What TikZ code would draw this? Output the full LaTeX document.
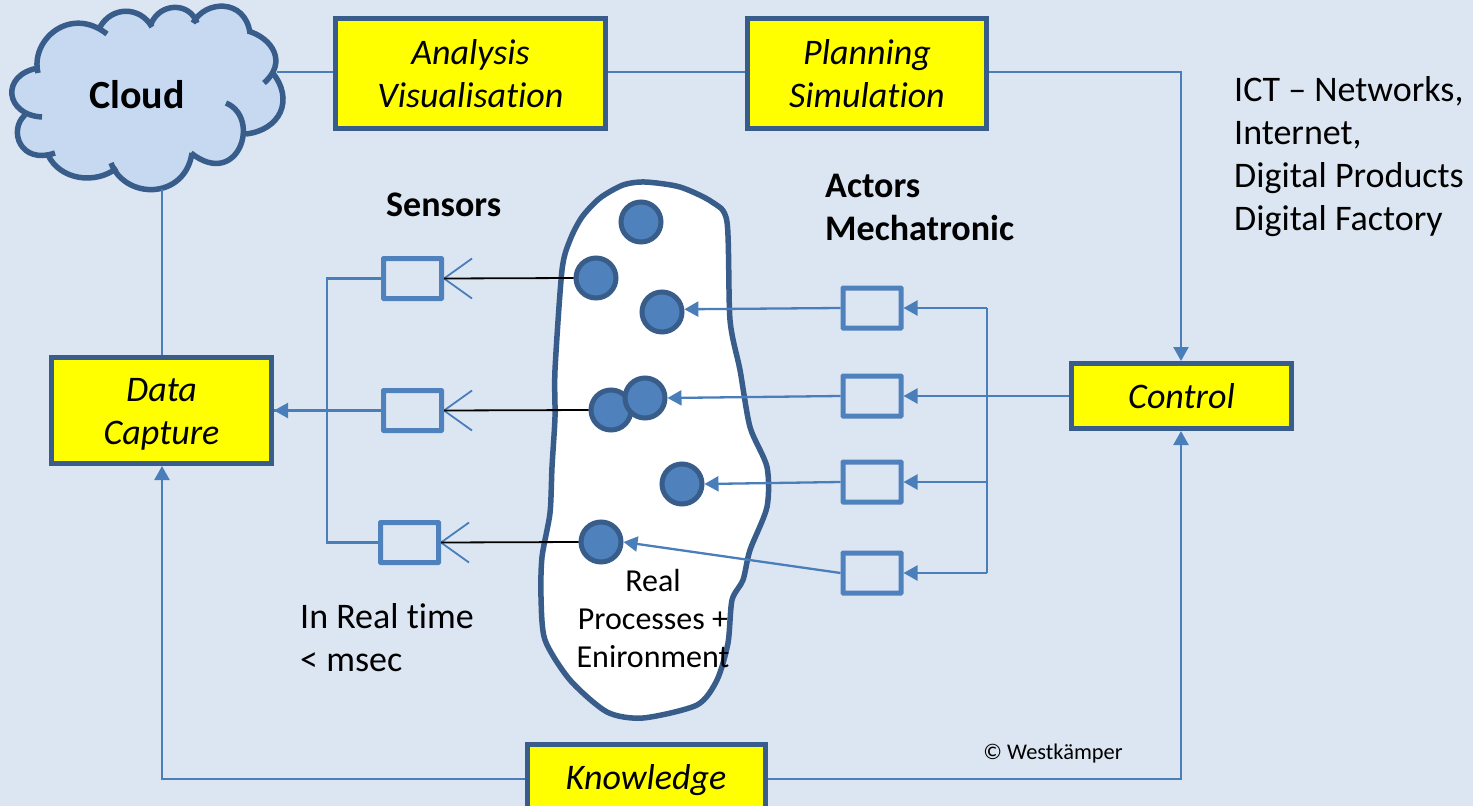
\documentclass[tikz,border=0pt]{standalone}
\usepackage{fontspec}
\setmainfont{Carlito}[Ligatures=NoCommon]
\usetikzlibrary{arrows.meta}
\definecolor{bgc}{HTML}{DCE6F2}
\definecolor{cloudc}{HTML}{C6D9F1}
\definecolor{edgec}{HTML}{385D8A}
\definecolor{linec}{HTML}{4A7EBB}
\definecolor{dotc}{HTML}{4F81BD}
\definecolor{yellowc}{HTML}{FFFF00}
\tikzset{
  x=1pt,y=-1pt,
  yellowbox/.style={draw=edgec,line width=5pt,fill=yellowc,inner sep=0pt,align=center,font=\fontsize{36}{43}\selectfont\itshape},
  sensorbox/.style={draw=dotc,line width=5pt,inner sep=0pt,minimum width=58pt,minimum height=40pt,rounded corners=0.5pt},
  dot/.style={circle,draw=edgec,line width=5pt,fill=dotc,inner sep=0pt,minimum size=40pt},
  conn/.style={draw=linec,line width=2.3pt},
  arr/.style={conn,-{Triangle[length=14pt,width=15pt]}},
  probe/.style={draw=black,line width=1.8pt},
  prong/.style={draw=linec,line width=1.8pt},
  outline/.style={draw=edgec,line width=5.5pt,line cap=butt},
  lbl/.style={inner sep=0pt,align=left,anchor=north west,font=\fontsize{36}{43}\selectfont},
  head/.style={inner sep=0pt,align=left,anchor=north west,font=\fontsize{36}{43}\selectfont\bfseries},
  boxtext/.style={inner sep=0pt,align=center,font=\fontsize{36}{43}\selectfont\itshape},
}
\begin{document}
\begin{tikzpicture}
\useasboundingbox (0,0) rectangle (1473,806);
\fill[bgc] (0,0) rectangle (1473,806);
% cloud
\fill[cloudc] (38,73) .. controls (30,40) and (70,5) .. (107,34)
 -- (100,27) .. controls (112,6) and (140,6) .. (152,27)
 -- (151,24) .. controls (160,2) and (190,2) .. (197,23)
 -- (193,23) .. controls (205,0) and (245,-2) .. (250,33)
 -- (248,31) .. controls (272,38) and (288,62) .. (264,83)
 -- (272,72) .. controls (295,100) and (280,130) .. (246,134)
 -- (226,103) .. controls (262,118) and (238,190) .. (191,153)
 -- (192,153) .. controls (185,200) and (125,200) .. (111,163)
 -- (117,168) .. controls (95,185) and (60,180) .. (48,155)
 -- (55,153) .. controls (20,165) and (8,130) .. (25,115)
 -- (42,117) .. controls (5,115) and (0,75) .. (38,68) -- cycle;
\draw[outline] (38,73) .. controls (30,40) and (70,5) .. (107,34);
\draw[outline] (100,27) .. controls (112,6) and (140,6) .. (152,27);
\draw[outline] (151,24) .. controls (160,2) and (190,2) .. (197,23);
\draw[outline] (193,23) .. controls (205,0) and (245,-2) .. (250,33);
\draw[outline] (248,31) .. controls (272,38) and (288,62) .. (264,83);
\draw[outline] (272,72) .. controls (295,100) and (280,130) .. (246,134);
\draw[outline] (226,103) .. controls (262,118) and (238,190) .. (191,153);
\draw[outline] (192,153) .. controls (185,200) and (125,200) .. (111,163);
\draw[outline] (117,168) .. controls (95,185) and (60,180) .. (48,155);
\draw[outline] (55,153) .. controls (20,165) and (8,130) .. (25,115);
\draw[outline] (42,117) .. controls (5,115) and (0,75) .. (38,68);
\node[inner sep=0pt,font=\fontsize{40}{43}\selectfont\bfseries] (cloud) at (137,95) {Cloud};
\coordinate (cloudE) at (277,72);
\coordinate (cloudS) at (162,189);
% real process blob
\draw[outline,fill=white,line join=round] plot[smooth cycle,tension=0.45] coordinates {
 (645,182)(680,187)(712,202)(727,222)(730,320)(740,370)(750,427)(767,467)(767,507)(750,550)(743,580)(732,600)(728,643)(717,680)(697,705)(643,718)(607,712)(570,680)(545,640)(541,597)(542,557)(550,513)(552,467)(555,417)(555,370)(562,270)(570,240)(582,217)(600,198)(623,185)};
% yellow boxes
\node[yellowbox,minimum width=270pt,minimum height=110pt] (analysis) at (470.5,73.5) {Analysis\\Visualisation};
\node[yellowbox,minimum width=239pt,minimum height=110pt] (planning) at (867,73.5) {Planning\\Simulation};
\node[yellowbox,minimum width=220pt,minimum height=106pt] (capture) at (161.5,410.5) {};
\node[boxtext] (capturetxt) at (161.5,411.5) {Data\\\smash{Capture}};
\node[yellowbox,minimum width=220pt,minimum height=65pt] (control) at (1181.5,396) {Control};
\node[yellowbox,minimum width=238pt,minimum height=80pt] (knowledge) at (646.5,784) {};
\node[boxtext] (knowledgetxt) at (646,780) {Knowledge};
% dots
\node[dot] (d1) at (641,222) {};
\node[dot] (d2) at (596,278) {};
\node[dot] (d3) at (662,312) {};
\node[dot] (d4) at (611,410) {};
\node[dot] (d5) at (645,398) {};
\node[dot] (d6) at (682,484) {};
\node[dot] (d7) at (601,542) {};
% sensor boxes
\node[sensorbox] (s1) at (412.5,278.5) {};
\node[sensorbox] (s2) at (412.5,410.5) {};
\node[sensorbox] (s3) at (409.5,542.5) {};
% actor boxes
\node[sensorbox] (a1) at (872,308) {};
\node[sensorbox] (a2) at (872,396) {};
\node[sensorbox] (a3) at (872,482) {};
\node[sensorbox] (a4) at (872,573) {};
% top connectors
\draw[conn] (cloudE) -- (cloudE -| analysis.west);
\draw[conn] (analysis.east |- cloudE) -- (planning.west |- cloudE);
\coordinate (topbend) at (1181,72);
\draw[arr] (planning.east |- topbend) -- (topbend) -- (control.north -| topbend);
\draw[conn] (cloudS) -- (cloudS |- capture.north);
% knowledge connectors
\coordinate (kl) at (162,779);
\coordinate (kr) at (1181,779);
\draw[arr] (knowledge.west |- kl) -- (kl) -- (kl |- capture.south);
\draw[arr] (knowledge.east |- kr) -- (kr) -- (kr |- control.south);
% sensor bus
\coordinate (sbus) at (327,410);
\draw[conn] (s1.west) -- (s1.west -| sbus) -- (s3.west -| sbus) -- (s3.west);
\draw[arr] (s2.west) -- (capture.east |- s2.west);
\draw[draw=linec,line width=3pt] (sbus) -- (capture.east |- sbus);
% sensor antennas
\foreach \b in {s1,s2,s3}{
  \draw[prong] (\b.east) -- ++(28,-20);
  \draw[prong] (\b.east) -- ++(28,20);
}
\draw[probe] (s1.east) -- (d2.west);
\draw[probe] (s2.east) -- (d4.west);
\draw[probe] (s3.east) -- (d7.west);
% actor bus
\coordinate (abus) at (987,396);
\draw[conn] (a1.east -| abus) -- (a4.east -| abus);
\draw[arr] (a1.east -| abus) -- (a1.east);
\draw[arr] (control.west) -- (a2.east);
\draw[arr] (a3.east -| abus) -- (a3.east);
\draw[arr] (a4.east -| abus) -- (a4.east);
% actor to dots
\draw[arr] (a1.west) -- (d3.7);
\draw[arr] (a2.west) -- (d5.east);
\draw[arr] (a3.west) -- (d6.east);
\draw[arr] (a4.west) -- (d7.east);
% texts
\node[head] (sensors) at (386,193) {Sensors};
\node[head] (actors) at (825,174) {Actors\\Mechatronic};
\node[lbl] (ict) at (1234,76) {ICT – Networks,\\Internet,\\Digital Products\\Digital Factory};
\node[lbl] (rt) at (300,603) {In Real time\\< msec};
\node[inner sep=0pt,align=center,font=\fontsize{32}{38}\selectfont] (real) at (653,618) {Real\\Processes +\\Enironment};
\node[inner sep=0pt,font=\fontsize{22.4}{24}\selectfont] (copy) at (1053,754) {© Westkämper};
\end{tikzpicture}
\end{document}
